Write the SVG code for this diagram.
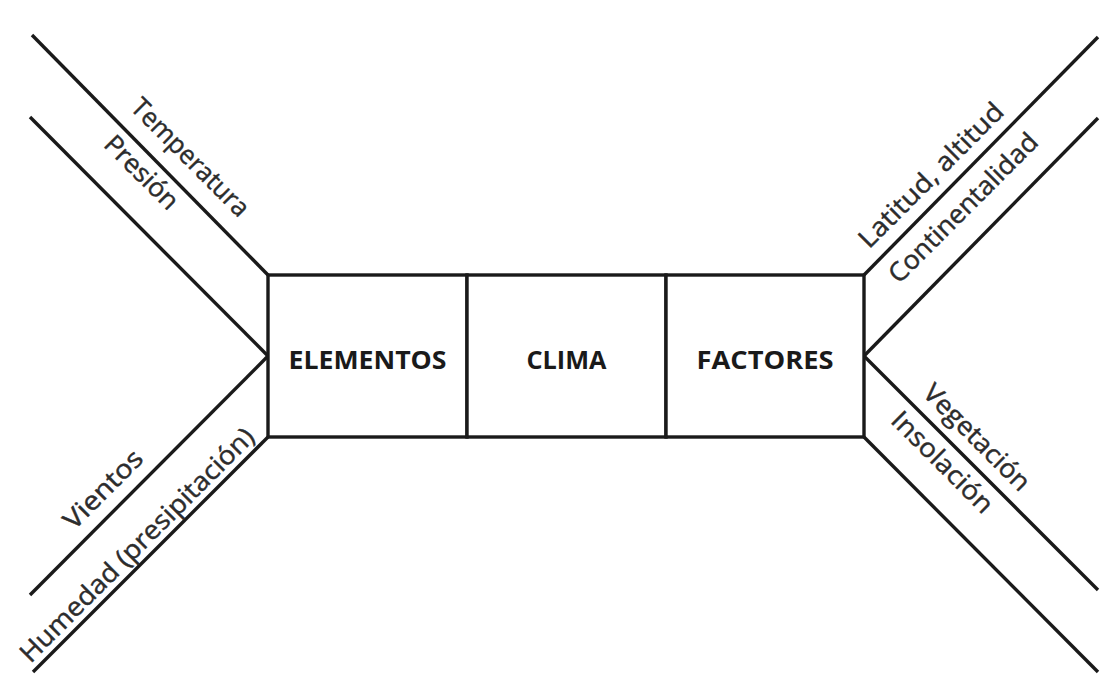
<svg xmlns="http://www.w3.org/2000/svg" width="1107" height="684" viewBox="0 0 1107 684">
<style>
.ln{stroke:#1a1a1a;stroke-width:3.4;fill:none;stroke-linecap:butt}
.box{stroke:#1a1a1a;stroke-width:3.4;fill:#ffffff}
.lbl{font-family:"Open Sans","Liberation Sans",sans-serif;font-size:26px;fill:#2c2c2c;stroke:#2c2c2c;stroke-width:0.45}
.hd{font-family:"Open Sans","Liberation Sans",sans-serif;font-size:24.5px;font-weight:bold;fill:#1a1a1a;text-anchor:middle}
</style>
<rect width="1107" height="684" fill="#ffffff"/>
<g id="connectors">
<line class="ln" x1="32" y1="35" x2="268" y2="275"/>
<line class="ln" x1="30" y1="117" x2="268" y2="356"/>
<line class="ln" x1="30" y1="595" x2="268" y2="356"/>
<line class="ln" x1="33" y1="672" x2="268" y2="437"/>
<line class="ln" x1="1098" y1="37" x2="864" y2="275"/>
<line class="ln" x1="1098" y1="118" x2="864" y2="356"/>
<line class="ln" x1="1098" y1="590" x2="864" y2="356"/>
<line class="ln" x1="1098" y1="672" x2="864" y2="437"/>
</g>
<g id="elementos">
<rect class="box" x="268" y="275" width="199" height="162"/>
<text class="hd" x="367.5" y="369" textLength="158" lengthAdjust="spacingAndGlyphs">ELEMENTOS</text>
</g>
<g id="clima">
<rect class="box" x="467" y="275" width="199" height="162"/>
<text class="hd" x="566.5" y="369" textLength="80" lengthAdjust="spacingAndGlyphs">CLIMA</text>
</g>
<g id="factores">
<rect class="box" x="666" y="275" width="198" height="162"/>
<text class="hd" x="765" y="369" textLength="137" lengthAdjust="spacingAndGlyphs">FACTORES</text>
</g>
<g id="labels">
<text class="lbl" transform="translate(129.3 108.8) rotate(45)" textLength="155" lengthAdjust="spacingAndGlyphs">Temperatura</text>
<text class="lbl" transform="translate(102.4 145.8) rotate(45)" textLength="93" lengthAdjust="spacingAndGlyphs">Presión</text>
<text class="lbl" transform="translate(74.1 530.9) rotate(-45)" textLength="100" lengthAdjust="spacingAndGlyphs">Vientos</text>
<text class="lbl" transform="translate(30.4 664) rotate(-45)" textLength="319" lengthAdjust="spacingAndGlyphs">Humedad (presipitación)</text>
<text class="lbl" transform="translate(869 249.6) rotate(-45)" textLength="193" lengthAdjust="spacingAndGlyphs">Latitud, altitud</text>
<text class="lbl" transform="translate(899 284.5) rotate(-45)" textLength="199" lengthAdjust="spacingAndGlyphs">Continentalidad</text>
<text class="lbl" transform="translate(921.6 394.6) rotate(45)" textLength="139" lengthAdjust="spacingAndGlyphs">Vegetación</text>
<text class="lbl" transform="translate(889.5 421.7) rotate(45)" textLength="132" lengthAdjust="spacingAndGlyphs">Insolación</text>
</g>
</svg>
